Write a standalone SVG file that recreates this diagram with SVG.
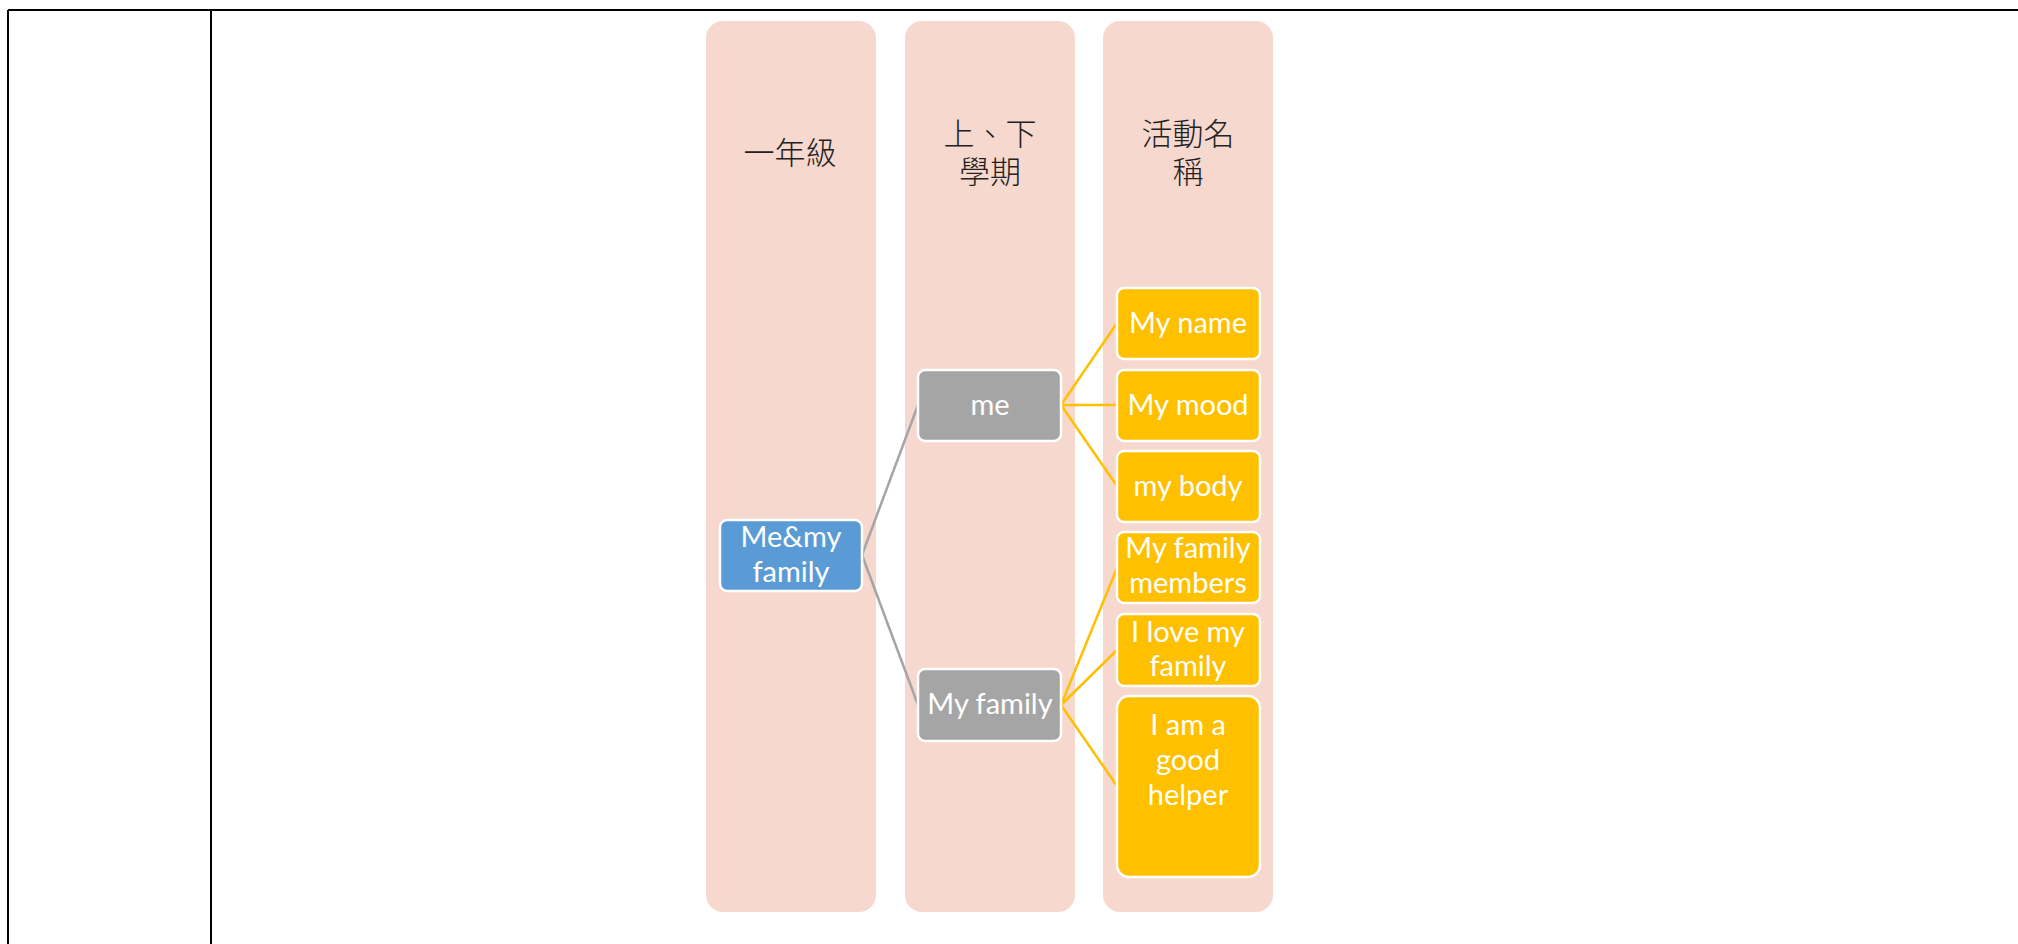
<svg xmlns="http://www.w3.org/2000/svg" width="2018" height="944" viewBox="0 0 2018 944">
<style>
.grid{stroke:#000;stroke-width:2;fill:none}
.col{fill:#F7D8CE}
.hdr{font-family:"Noto Sans CJK TC","Noto Sans CJK SC",sans-serif;font-size:31px;fill:#222;text-anchor:middle;font-weight:300}
.node rect{stroke:#fff;stroke-width:2.5}
.blue{fill:#5B9BD5}
.gray{fill:#A5A5A5}
.yel{fill:#FFC000}
.lbl{font-family:Lato,"Liberation Sans",sans-serif;font-size:29px;fill:#fff;text-anchor:middle}
.cg{stroke:#A5A5A5;stroke-width:2.5;fill:none}
.cy{stroke:#FFC000;stroke-width:2.5;fill:none}
</style>
<rect width="2018" height="944" fill="#fff"/>
<g id="table">
<line class="grid" x1="8" y1="10" x2="2018" y2="10"/>
<line class="grid" x1="8" y1="10" x2="8" y2="944"/>
<line class="grid" x1="211" y1="10" x2="211" y2="944"/>
</g>
<g id="columns">
<rect class="col" x="706" y="21" width="170" height="891" rx="17"/>
<rect class="col" x="905" y="21" width="170" height="891" rx="17"/>
<rect class="col" x="1103" y="21" width="170" height="891" rx="17"/>
<text class="hdr" x="790" y="164">一年級</text>
<text class="hdr" x="990" y="145">上、下</text>
<text class="hdr" x="990" y="183">學期</text>
<text class="hdr" x="1188" y="145">活動名</text>
<text class="hdr" x="1188" y="183">稱</text>
</g>
<g id="connectors">
<line class="cg" x1="862" y1="555" x2="918" y2="405"/>
<line class="cg" x1="862" y1="555" x2="918" y2="705"/>
<line class="cy" x1="1061" y1="405" x2="1117" y2="323"/>
<line class="cy" x1="1061" y1="405" x2="1117" y2="405"/>
<line class="cy" x1="1061" y1="405" x2="1117" y2="486"/>
<line class="cy" x1="1061" y1="705" x2="1117" y2="568"/>
<line class="cy" x1="1061" y1="705" x2="1117" y2="650"/>
<line class="cy" x1="1061" y1="705" x2="1117" y2="786"/>
</g>
<g id="n-memyfamily" class="node">
<rect class="blue" x="720" y="520" width="142" height="71" rx="7"/>
<text class="lbl" x="791" y="547">Me&amp;my</text>
<text class="lbl" x="791" y="582">family</text>
</g>
<g id="n-me" class="node">
<rect class="gray" x="918" y="370" width="143" height="71" rx="7"/>
<text class="lbl" x="990" y="415">me</text>
</g>
<g id="n-myfamily" class="node">
<rect class="gray" x="918" y="669" width="143" height="72" rx="7"/>
<text class="lbl" x="990" y="714">My family</text>
</g>
<g id="n-myname" class="node">
<rect class="yel" x="1117" y="288" width="143" height="71" rx="7"/>
<text class="lbl" x="1188" y="333">My name</text>
</g>
<g id="n-mymood" class="node">
<rect class="yel" x="1117" y="370" width="143" height="71" rx="7"/>
<text class="lbl" x="1188" y="415">My mood</text>
</g>
<g id="n-mybody" class="node">
<rect class="yel" x="1117" y="451" width="143" height="71" rx="7"/>
<text class="lbl" x="1188" y="496">my body</text>
</g>
<g id="n-members" class="node">
<rect class="yel" x="1117" y="532" width="143" height="71" rx="7"/>
<text class="lbl" x="1188" y="558">My family</text>
<text class="lbl" x="1188" y="593">members</text>
</g>
<g id="n-love" class="node">
<rect class="yel" x="1117" y="614" width="143" height="72" rx="7"/>
<text class="lbl" x="1188" y="642">I love my</text>
<text class="lbl" x="1188" y="676">family</text>
</g>
<g id="n-helper" class="node">
<rect class="yel" x="1117" y="696" width="143" height="181" rx="12"/>
<text class="lbl" x="1188" y="735">I am a</text>
<text class="lbl" x="1188" y="770">good</text>
<text class="lbl" x="1188" y="805">helper</text>
</g>
</svg>
